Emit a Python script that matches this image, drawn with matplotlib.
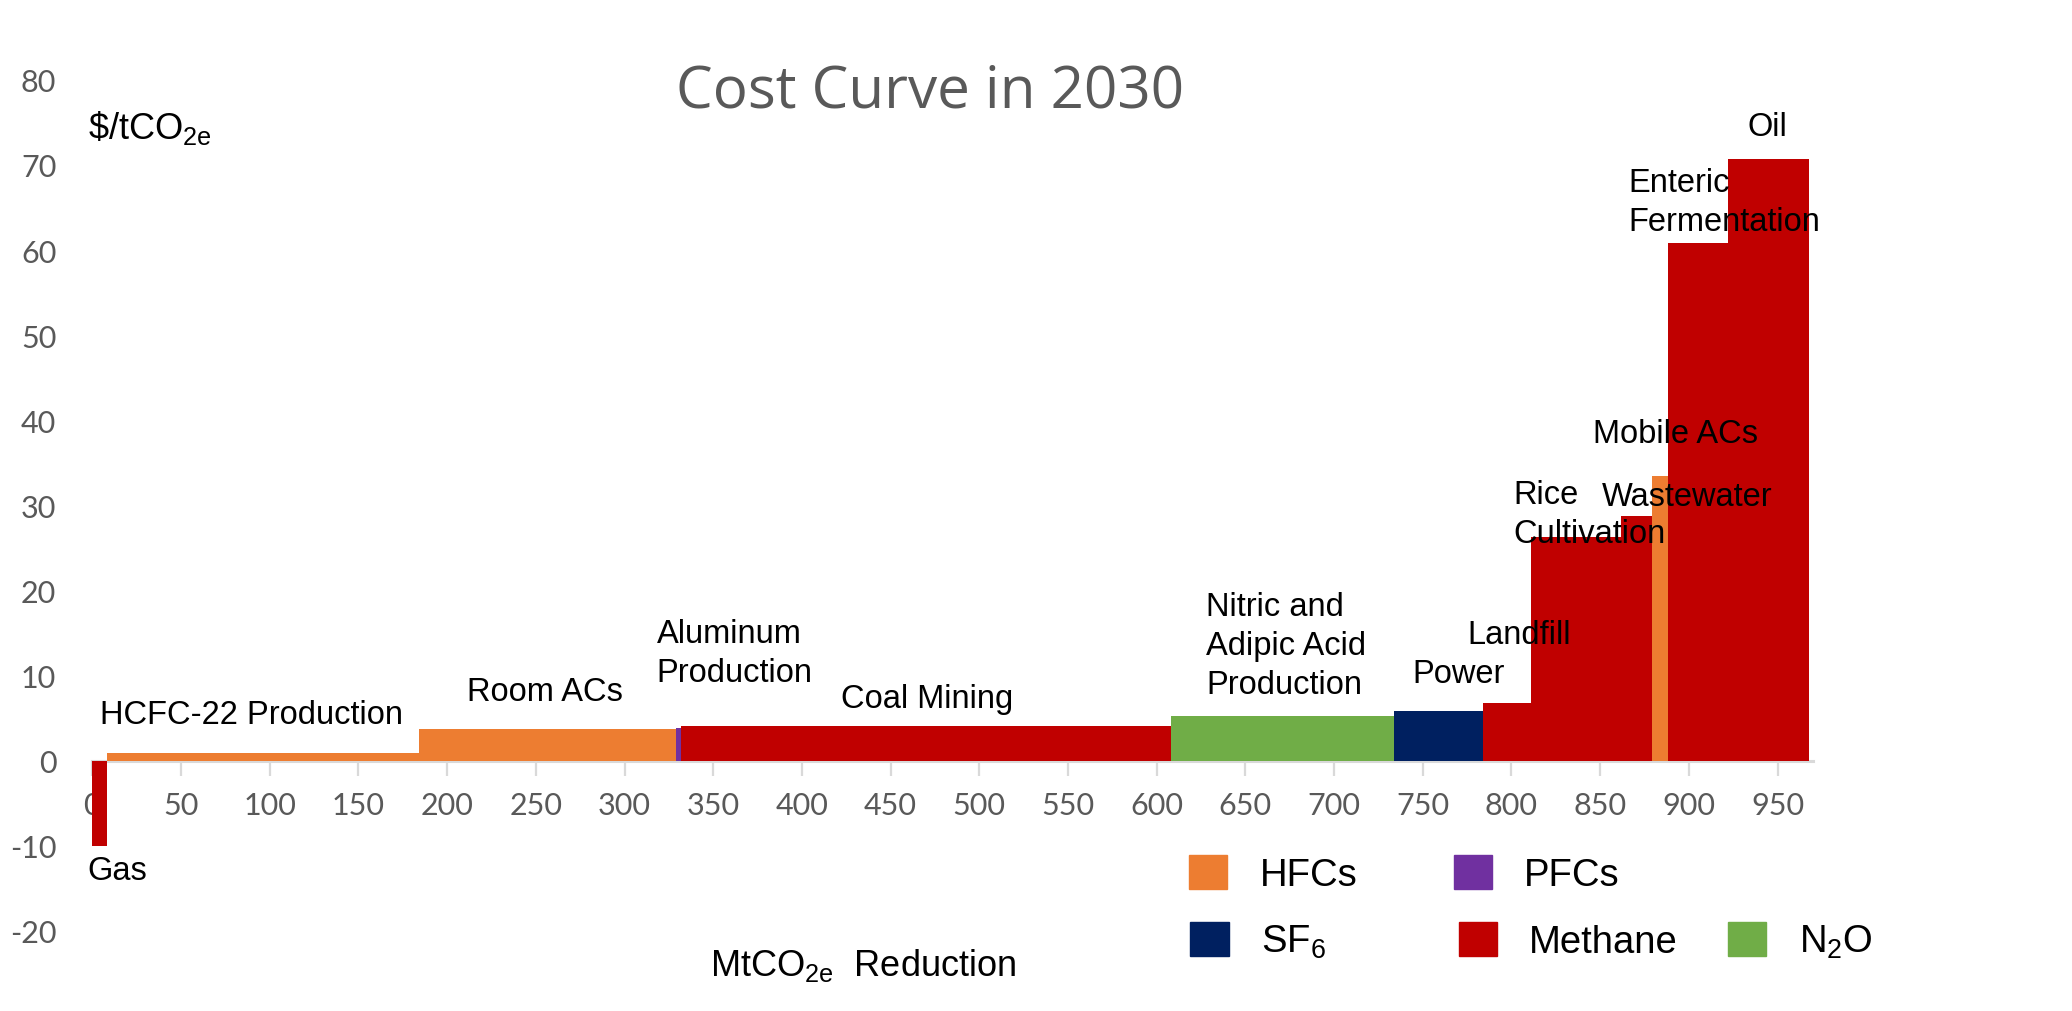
import numpy as np
import matplotlib
matplotlib.use("Agg")
import matplotlib.pyplot as plt
from matplotlib.patches import Patch

# abatement options, in merit order
labels = ["Gas", "HCFC-22 Production", "Room ACs", "Aluminum\nProduction",
          "Coal Mining", "Nitric and\nAdipic Acid\nProduction", "Power",
          "Landfill", "Rice\nCultivation", "Wastewater", "Mobile ACs",
          "Enteric\nFermentation", "Oil"]
widths = [8, 176, 145, 3, 276, 126, 50, 27, 51, 17, 9, 34, 46]   # MtCO2e
costs = [-10, 0.9, 3.7, 3.9, 4.1, 5.3, 5.8, 6.8, 26.3, 28.8, 33.4, 60.8, 70.7]  # $/tCO2e
gases = ["Methane", "HFCs", "HFCs", "PFCs", "Methane", "N2O", "SF6",
         "Methane", "Methane", "Methane", "HFCs", "Methane", "Methane"]

gas_colors = {"HFCs": "#ED7D31", "PFCs": "#7030A0", "SF6": "#002060",
              "Methane": "#C00000", "N2O": "#70AD47"}

# label anchor points (left edge, vertical centre) in data units
label_x = [-3, 4, 211, 318, 422, 628, 744, 775, 801, 851, 846, 866, 933]
label_y = [-12.9, 5.4, 8.1, 12.7, 7.3, 13.5, 10.2, 14.8, 29.0, 31.1, 38.4, 65.7, 74.5]

legend_gases = ["HFCs", "PFCs", "SF6", "Methane", "N2O"]
legend_names = ["HFCs", "PFCs", "SF$_6$", "Methane", "N$_2$O"]
legend_pos = [(0.5739, 0.1356), (0.7015, 0.1356), (0.5745, 0.069),
              (0.7040, 0.069), (0.834, 0.069)]

plt.rcParams["mathtext.fontset"] = "custom"
plt.rcParams["mathtext.rm"] = "Liberation Sans"
plt.rcParams["mathtext.it"] = "Liberation Sans"
plt.rcParams["axes.unicode_minus"] = False

fig = plt.figure(figsize=(20.72, 10.12), dpi=100)
ax = fig.add_axes([0.0446, 0.0791, 0.8304, 0.841])

lefts = np.concatenate(([0], np.cumsum(widths)[:-1]))
colors = [gas_colors[g] for g in gases]
ax.bar(lefts, costs, width=widths, align="edge", color=colors,
       linewidth=0, zorder=3)

for name, x, y in zip(labels, label_x, label_y):
    ax.text(x, y, name, ha="left", va="center", fontsize=23.5,
            family="Liberation Sans", color="black", linespacing=1.33, zorder=4)

ax.set_xlim(0, 970)
ax.set_ylim(-20, 80)
ax.set_xticks(np.arange(0, 951, 50))
ax.set_yticks(np.arange(-20, 81, 10))

for s in ["top", "right", "left"]:
    ax.spines[s].set_visible(False)
ax.spines["bottom"].set_position(("data", 0))
ax.spines["bottom"].set_color("#D9D9D9")
ax.spines["bottom"].set_linewidth(2.2)

ax.tick_params(axis="x", direction="out", length=11, width=1.6, color="#D9D9D9",
               pad=11, labelsize=22, labelcolor="#595959")
ax.tick_params(axis="y", length=0, pad=26, labelsize=22, labelcolor="#595959")
for t in ax.get_xticklabels() + ax.get_yticklabels():
    t.set_family("Lato")

ax.text(-2.5, 74.5, r"\$/tCO$_{\mathrm{2e}}$", fontsize=26, family="Liberation Sans",
        ha="left", va="center")
ax.text(348, -24, r"MtCO$_{\mathrm{2e}}$  Reduction", fontsize=26,
        family="Liberation Sans", ha="left", va="center")
fig.text(0.449, 0.909, "Cost Curve in 2030", fontsize=42, family="Open Sans",
         color="#595959", ha="center", va="center")

# legend entries laid out on a loose grid, as in the source chart
for g, name, pos in zip(legend_gases, legend_names, legend_pos):
    fig.legend([Patch(color=gas_colors[g])], [name], loc="center left",
               bbox_to_anchor=pos, frameon=False,
               prop={"family": "Liberation Sans", "size": 27.5},
               handlelength=1.0, handleheight=1.0, handletextpad=0.85,
               borderpad=0, borderaxespad=0)

fig.savefig("out.png", dpi=100)
